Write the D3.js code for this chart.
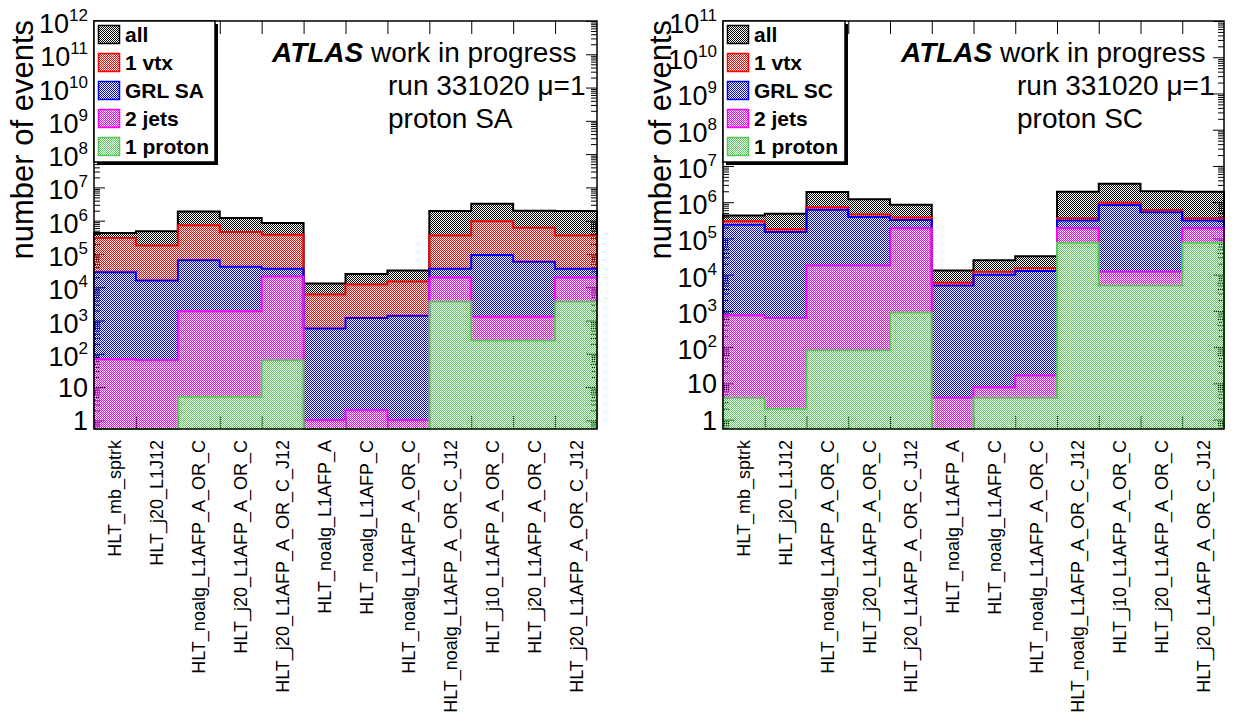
<!DOCTYPE html>
<html>
<head>
<meta charset="utf-8">
<script src="https://d3js.org/d3.v7.min.js"></script>
<style>
  body { margin: 0; background: white; }
  text { font-family: "Liberation Sans", Arial, Helvetica, sans-serif; }
</style>
</head>
<body>
<script>
// trigger chains, same for both panels
const labels = ["HLT_mb_sptrk", "HLT_j20_L1J12", "HLT_noalg_L1AFP_A_OR_C", "HLT_j20_L1AFP_A_OR_C",
  "HLT_j20_L1AFP_A_OR_C_J12", "HLT_noalg_L1AFP_A", "HLT_noalg_L1AFP_C", "HLT_noalg_L1AFP_A_OR_C",
  "HLT_noalg_L1AFP_A_OR_C_J12", "HLT_j10_L1AFP_A_OR_C", "HLT_j20_L1AFP_A_OR_C", "HLT_j20_L1AFP_A_OR_C_J12"];

// event counts (0 = nothing drawn above the axis)
const allEvents = [4.3e5, 4.8e5, 1.9e6, 1.2e6, 8.5e5, 1.3e4, 2.5e4, 3.2e4, 1.95e6, 3.2e6, 2.0e6, 1.95e6];
const oneVtx    = [3.0e5, 1.8e5, 7.3e5, 4.6e5, 3.8e5, 6.0e3, 1.2e4, 1.5e4, 3.6e5, 9.6e5, 6.1e5, 3.6e5];

const grlSA    = [2.8e4, 1.6e4, 6.5e4, 4.1e4, 3.6e4, 580, 1.2e3, 1.4e3, 3.6e4, 9.3e4, 5.8e4, 3.6e4];
const jetsSA   = [69, 64, 1.9e3, 1.9e3, 2.1e4, 1.0, 2.0, 1.0, 1.95e4, 1.3e3, 1.3e3, 1.95e4];
const protonSA = [0, 0, 5.1, 5.1, 64, 0, 0, 0, 3.7e3, 250, 250, 3.7e3];

const grlSC    = [2.4e5, 1.5e5, 6.2e5, 3.9e5, 3.2e5, 5.0e3, 9.9e3, 1.27e4, 3.1e5, 8.3e5, 5.3e5, 3.1e5];
const jetsSC   = [760, 640, 1.8e4, 1.8e4, 1.9e5, 4.0, 7.8, 16.5, 1.9e5, 1.2e4, 1.2e4, 1.9e5];
const protonSC = [4.0, 2.0, 82, 82, 900, 0, 4.0, 4.0, 7.6e4, 5.0e3, 5.0e3, 7.6e4];

const legendSA = ["all", "1 vtx", "GRL SA", "2 jets", "1 proton"];
const legendSC = ["all", "1 vtx", "GRL SC", "2 jets", "1 proton"];

const colors = ["#000000", "#ff0000", "#0000ff", "#ff00ff", "#55c855"];
const yMin = 0.55;
const yTop = 21, yBottom = 429;

const svg = d3.select("body").append("svg").attr("width", 1238).attr("height", 726);

// ROOT-like dotted fill: checker of coloured pixels over transparent
const defs = svg.append("defs");
colors.forEach((c, i) => {
  const p = defs.append("pattern").attr("id", "pat" + i)
    .attr("patternUnits", "userSpaceOnUse").attr("width", 2).attr("height", 2);
  p.append("rect").attr("x", 0).attr("y", 0).attr("width", 1).attr("height", 1).attr("fill", c);
  p.append("rect").attr("x", 1).attr("y", 1).attr("width", 1).attr("height", 1).attr("fill", c);
});

function drawPanel(p) {
  const n = labels.length;
  const x = d3.scaleLinear().domain([0, n]).range([p.left, p.right]);
  const y = d3.scaleLog().domain([yMin, p.yMax]).range([yBottom, yTop]);
  const g = svg.append("g");

  const kMax = Math.round(Math.log10(p.yMax));
  const majors = d3.range(0, kMax + 1).map(k => Math.pow(10, k));
  const minors = [];
  for (let k = -1; k < kMax; k++) {
    for (let m = 2; m <= 9; m++) {
      const v = m * Math.pow(10, k);
      if (v >= yMin && v <= p.yMax) minors.push(v);
    }
  }
  const bounds = d3.range(1, n);

  const noDomain = a => a.select(".domain").remove();
  g.append("g").attr("transform", `translate(${p.left},0)`)
    .call(d3.axisLeft(y).tickValues(majors).tickSize(-11).tickFormat("")).call(noDomain);
  g.append("g").attr("transform", `translate(${p.left},0)`)
    .call(d3.axisLeft(y).tickValues(minors).tickSize(-6).tickFormat("")).call(noDomain);
  g.append("g").attr("transform", `translate(${p.right},0)`)
    .call(d3.axisRight(y).tickValues(majors).tickSize(-11).tickFormat("")).call(noDomain);
  g.append("g").attr("transform", `translate(${p.right},0)`)
    .call(d3.axisRight(y).tickValues(minors).tickSize(-6).tickFormat("")).call(noDomain);
  g.append("g").attr("transform", `translate(0,${yBottom})`)
    .call(d3.axisBottom(x).tickValues(bounds).tickSize(-13).tickFormat("")).call(noDomain);
  g.append("g").attr("transform", `translate(0,${yTop})`)
    .call(d3.axisTop(x).tickValues(bounds).tickSize(-13).tickFormat("")).call(noDomain);
  g.selectAll(".tick line").attr("stroke", "#000").attr("stroke-width", 1);

  // histograms, overlaid from the largest to the smallest
  const line = d3.line().x(d => x(d[0])).y(d => y(d[1]));
  p.series.forEach((vals, i) => {
    const pts = [[0, yMin]];
    vals.forEach((v, j) => {
      const vv = Math.max(v, yMin);
      pts.push([j, vv], [j + 1, vv]);
    });
    pts.push([n, yMin]);
    g.append("path").attr("d", line(pts))
      .attr("fill", `url(#pat${i})`)
      .attr("stroke", colors[i]).attr("stroke-width", 2)
      .attr("stroke-linejoin", "miter");
  });

  // frame
  g.append("rect").attr("x", p.left).attr("y", yTop)
    .attr("width", p.right - p.left).attr("height", yBottom - yTop)
    .attr("fill", "none").attr("stroke", "#000").attr("stroke-width", 1.5);

  // y tick labels
  majors.forEach((v, k) => {
    const t = g.append("text").attr("text-anchor", "end")
      .attr("x", p.left - 6).attr("font-size", 27);
    if (k < 2) {
      t.attr("y", y(v) + 10).text(k === 0 ? "1" : "10");
    } else {
      t.attr("y", y(v) + 12);
      t.append("tspan").text("10");
      t.append("tspan").attr("font-size", 17).attr("dy", -12).text(k);
    }
  });

  // y title
  g.append("text").attr("text-anchor", "end").attr("font-size", 31)
    .attr("transform", `translate(${p.titleX},20) rotate(-90)`)
    .text("number of events");

  // x labels
  labels.forEach((l, i) => {
    g.append("text").attr("text-anchor", "end").attr("font-size", 18)
      .attr("transform", `translate(${x(i + 0.5) + 6.5},440) rotate(-90)`)
      .text(l);
  });

  // legend
  const lx = p.left, lw = p.legendW, lh = 141;
  g.append("rect").attr("x", lx + 3).attr("y", yTop + 3).attr("width", lw).attr("height", lh).attr("fill", "#000");
  g.append("rect").attr("x", lx).attr("y", yTop).attr("width", lw).attr("height", lh)
    .attr("fill", "#fff").attr("stroke", "#000").attr("stroke-width", 1.5);
  p.legend.forEach((name, i) => {
    const cy = 34.5 + i * 28;
    g.append("rect").attr("x", lx + 4.5).attr("y", cy - 9).attr("width", 21).attr("height", 18)
      .attr("fill", `url(#pat${i})`).attr("stroke", colors[i]).attr("stroke-width", 1.5);
    g.append("text").attr("x", lx + 31).attr("y", cy + 7.5)
      .attr("font-size", 21).attr("font-weight", "bold").text(name);
  });

  // ATLAS label
  const t1 = g.append("text").attr("x", p.left + 178).attr("y", 62).attr("font-size", 28);
  t1.append("tspan").attr("font-weight", "bold").attr("font-style", "italic").text("ATLAS");
  t1.append("tspan").text(" work in progress");
  g.append("text").attr("x", p.left + 294).attr("y", 95).attr("font-size", 28).text("run 331020 \u03bc=1");
  g.append("text").attr("x", p.left + 294).attr("y", 128).attr("font-size", 28).text(p.tag);
}

drawPanel({
  left: 94, right: 597, yMax: 1e12, titleX: 33, legendW: 121,
  series: [allEvents, oneVtx, grlSA, jetsSA, protonSA], legend: legendSA, tag: "proton SA"
});
drawPanel({
  left: 723, right: 1224, yMax: 1e11, titleX: 671, legendW: 122,
  series: [allEvents, oneVtx, grlSC, jetsSC, protonSC], legend: legendSC, tag: "proton SC"
});
</script>
</body>
</html>
